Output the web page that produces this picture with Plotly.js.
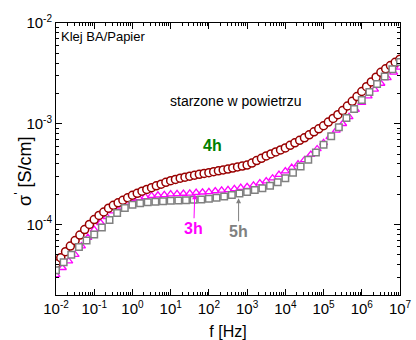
<!DOCTYPE html>
<html>
<head>
<meta charset="utf-8">
<script src="https://cdn.plot.ly/plotly-3.0.1.min.js"></script>
<style>
html,body{margin:0;padding:0;background:#fff;}
#chart{width:416px;height:340px;}
</style>
</head>
<body>
<div id="chart"></div>
<script>
// 4h – frequencies [Hz] (8 points / decade)
const f4h = [
 1.000e-2,1.334e-2,1.778e-2,2.371e-2,3.162e-2,4.217e-2,5.623e-2,7.499e-2,
 1.000e-1,1.334e-1,1.778e-1,2.371e-1,3.162e-1,4.217e-1,5.623e-1,7.499e-1,
 1.000e0,1.334e0,1.778e0,2.371e0,3.162e0,4.217e0,5.623e0,7.499e0,
 1.000e1,1.334e1,1.778e1,2.371e1,3.162e1,4.217e1,5.623e1,7.499e1,
 1.000e2,1.334e2,1.778e2,2.371e2,3.162e2,4.217e2,5.623e2,7.499e2,
 1.000e3,1.334e3,1.778e3,2.371e3,3.162e3,4.217e3,5.623e3,7.499e3,
 1.000e4,1.334e4,1.778e4,2.371e4,3.162e4,4.217e4,5.623e4,7.499e4,
 1.000e5,1.334e5,1.778e5,2.371e5,3.162e5,4.217e5,5.623e5,7.499e5,
 1.000e6,1.334e6,1.778e6,2.371e6,3.162e6,4.217e6,5.623e6,7.499e6,
 1.000e7];
const s4h = [
 4.07e-5,4.68e-5,5.37e-5,6.10e-5,6.92e-5,7.85e-5,8.91e-5,1.00e-4,
 1.12e-4,1.23e-4,1.33e-4,1.45e-4,1.55e-4,1.64e-4,1.74e-4,1.84e-4,
 1.95e-4,2.04e-4,2.14e-4,2.23e-4,2.32e-4,2.42e-4,2.51e-4,2.62e-4,
 2.72e-4,2.80e-4,2.88e-4,2.95e-4,3.02e-4,3.08e-4,3.15e-4,3.21e-4,
 3.27e-4,3.34e-4,3.41e-4,3.48e-4,3.55e-4,3.63e-4,3.72e-4,3.80e-4,
 3.89e-4,4.07e-4,4.31e-4,4.54e-4,4.79e-4,5.01e-4,5.25e-4,5.50e-4,
 5.75e-4,6.10e-4,6.46e-4,6.84e-4,7.24e-4,7.76e-4,8.32e-4,8.91e-4,
 9.55e-4,1.04e-3,1.13e-3,1.23e-3,1.35e-3,1.50e-3,1.67e-3,1.86e-3,
 2.09e-3,2.33e-3,2.60e-3,2.90e-3,3.24e-3,3.51e-3,3.78e-3,4.07e-3,
 4.37e-3];

// 3h – frequencies [Hz] (6 points / decade)
const f3h = [
 1.000e-2,1.468e-2,2.154e-2,3.162e-2,4.642e-2,6.813e-2,
 1.000e-1,1.468e-1,2.154e-1,3.162e-1,4.642e-1,6.813e-1,
 1.000e0,1.468e0,2.154e0,3.162e0,4.642e0,6.813e0,
 1.000e1,1.468e1,2.154e1,3.162e1,4.642e1,6.813e1,
 1.000e2,1.468e2,2.154e2,3.162e2,4.642e2,6.813e2,
 1.000e3,1.468e3,2.154e3,3.162e3,4.642e3,6.813e3,
 1.000e4,1.468e4,2.154e4,3.162e4,4.642e4,6.813e4,
 1.000e5,1.468e5,2.154e5,3.162e5,4.642e5,6.813e5,
 1.000e6,1.468e6,2.154e6,3.162e6,4.642e6,6.813e6,
 1.000e7];
const s3h = [
 3.16e-5,3.72e-5,4.32e-5,5.01e-5,6.10e-5,7.41e-5,
 8.91e-5,1.04e-4,1.19e-4,1.36e-4,1.51e-4,1.66e-4,
 1.80e-4,1.84e-4,1.88e-4,1.93e-4,1.95e-4,1.97e-4,
 2.00e-4,2.01e-4,2.03e-4,2.04e-4,2.07e-4,2.09e-4,
 2.11e-4,2.15e-4,2.18e-4,2.21e-4,2.26e-4,2.32e-4,
 2.37e-4,2.45e-4,2.57e-4,2.69e-4,2.88e-4,3.13e-4,
 3.39e-4,3.67e-4,3.98e-4,4.37e-4,4.95e-4,5.62e-4,
 6.46e-4,7.41e-4,8.61e-4,1.00e-3,1.17e-3,1.38e-3,
 1.62e-3,1.88e-3,2.19e-3,2.51e-3,2.85e-3,3.24e-3,
 3.63e-3];

// 5h – frequencies [Hz] (5 points / decade)
const f5h = [
 1.000e-2,1.585e-2,2.512e-2,3.981e-2,6.310e-2,
 1.000e-1,1.585e-1,2.512e-1,3.981e-1,6.310e-1,
 1.000e0,1.585e0,2.512e0,3.981e0,6.310e0,
 1.000e1,1.585e1,2.512e1,3.981e1,6.310e1,
 1.000e2,1.585e2,2.512e2,3.981e2,6.310e2,
 1.000e3,1.585e3,2.512e3,3.981e3,6.310e3,
 1.000e4,1.585e4,2.512e4,3.981e4,6.310e4,
 1.000e5,1.585e5,2.512e5,3.981e5,6.310e5,
 1.000e6,1.585e6,2.512e6,3.981e6,6.310e6,
 1.000e7];
const s5h = [
 3.51e-5,4.22e-5,5.01e-5,5.96e-5,6.92e-5,
 7.94e-5,9.33e-5,1.11e-4,1.30e-4,1.46e-4,
 1.57e-4,1.62e-4,1.66e-4,1.68e-4,1.70e-4,
 1.72e-4,1.73e-4,1.74e-4,1.76e-4,1.77e-4,
 1.80e-4,1.84e-4,1.90e-4,1.96e-4,2.03e-4,
 2.10e-4,2.20e-4,2.29e-4,2.43e-4,2.63e-4,
 2.88e-4,3.27e-4,3.76e-4,4.40e-4,5.19e-4,
 6.17e-4,7.50e-4,9.23e-4,1.14e-3,1.40e-3,
 1.72e-3,2.07e-3,2.48e-3,2.95e-3,3.47e-3,
 4.09e-3];

// tick values and labels
const xTickVals = [1e-2, 1e-1, 1e0, 1e1, 1e2, 1e3, 1e4, 1e5, 1e6, 1e7];
const xTickExp  = ['-2', '-1', '0', '1', '2', '3', '4', '5', '6', '7'];
const yTickVals = [1e-4, 1e-3, 1e-2];
const yTickExp  = ['-4', '-3', '-2'];

const xTitle = 'f [Hz]';
const yTitle = 'σ<sup>\'</sup> [S/cm]';
const FONT = 'Arial, "Liberation Sans", sans-serif';

function powLabel(e) {
  return '10<sup><span style="font-size:10px">' + e + '</span></sup>';
}
function minorVals(lo, hi) {
  const out = [];
  for (let d = lo; d < hi; d++) for (let m = 2; m <= 9; m++) out.push(m * Math.pow(10, d));
  return out;
}

const traces = [
  {x: f3h, y: s3h, name: '3h', type: 'scatter', mode: 'markers',
   marker: {symbol: 'triangle-up', size: 7, color: '#ffffff', line: {color: '#ff00ff', width: 1.3}}},
  {x: f4h, y: s4h, name: '4h', type: 'scatter', mode: 'markers',
   marker: {symbol: 'circle', size: 8, color: '#ffffff', line: {color: '#990000', width: 1.5}}},
  {x: f5h, y: s5h, name: '5h', type: 'scatter', mode: 'markers',
   marker: {symbol: 'square', size: 6.5, color: '#ffffff', line: {color: '#808080', width: 1.5}}}
];

const axisCommon = {
  type: 'log', showgrid: false, zeroline: false,
  showline: true, linecolor: '#000', linewidth: 1, mirror: 'ticks',
  ticks: 'inside', ticklen: 6, tickwidth: 1, tickcolor: '#000',
  tickmode: 'array',
  tickfont: {family: FONT, size: 15, color: '#000'}
};

const layout = {
  width: 416, height: 340,
  margin: {l: 56, r: 16, t: 23, b: 45, pad: 0},
  paper_bgcolor: '#fff', plot_bgcolor: '#fff',
  showlegend: false,
  font: {family: FONT, color: '#000'},
  xaxis: Object.assign({}, axisCommon, {range: [-2, 7],
    tickvals: xTickVals, ticktext: xTickExp.map(powLabel),
    minor: {tickmode: 'array', tickvals: minorVals(-2, 7), ticks: 'inside', ticklen: 3, tickwidth: 1, tickcolor: '#000', showgrid: false},
    title: {text: xTitle, font: {family: FONT, size: 16, color: '#000'}, standoff: 9}}),
  yaxis: Object.assign({}, axisCommon, {range: [-4.7, -2],
    tickvals: yTickVals, ticktext: yTickExp.map(powLabel),
    minor: {tickmode: 'array', tickvals: minorVals(-5, -2), ticks: 'inside', ticklen: 3, tickwidth: 1, tickcolor: '#000', showgrid: false}}),
  annotations: [
    {xref: 'paper', yref: 'paper', x: -0.093, y: 0.456, xanchor: 'center', yanchor: 'middle',
     textangle: -90, text: yTitle, showarrow: false, font: {family: FONT, size: 18, color: '#000'}},
    {xref: 'paper', yref: 'paper', x: 0.01, y: 0.949, xanchor: 'left', yanchor: 'middle',
     text: 'Klej BA/Papier', showarrow: false, font: {family: FONT, size: 13, color: '#000'}},
    {xref: 'paper', yref: 'paper', x: 0.523, y: 0.713, xanchor: 'center', yanchor: 'middle',
     text: 'starzone w powietrzu', showarrow: false, font: {family: FONT, size: 14, color: '#000'}},
    {xref: 'paper', yref: 'paper', x: 0.456, y: 0.551, xanchor: 'center', yanchor: 'middle',
     text: '<b>4h</b>', showarrow: false, font: {family: FONT, size: 16, color: '#008000'}},
    {xref: 'x', yref: 'y', x: 1.63, y: -3.70, ax: -1, ay: 34,
     text: '<b>3h</b>', showarrow: true, arrowhead: 2, arrowsize: 1, arrowwidth: 1,
     arrowcolor: '#ff00ff', font: {family: FONT, size: 16, color: '#ff00ff'}},
    {xref: 'x', yref: 'y', x: 2.777, y: -3.74, ax: 0, ay: 33,
     text: '<b>5h</b>', showarrow: true, arrowhead: 2, arrowsize: 1, arrowwidth: 1,
     arrowcolor: '#808080', font: {family: FONT, size: 16, color: '#808080'}}
  ]
};

Plotly.newPlot('chart', traces, layout, {staticPlot: true, displayModeBar: false});
</script>
</body>
</html>
